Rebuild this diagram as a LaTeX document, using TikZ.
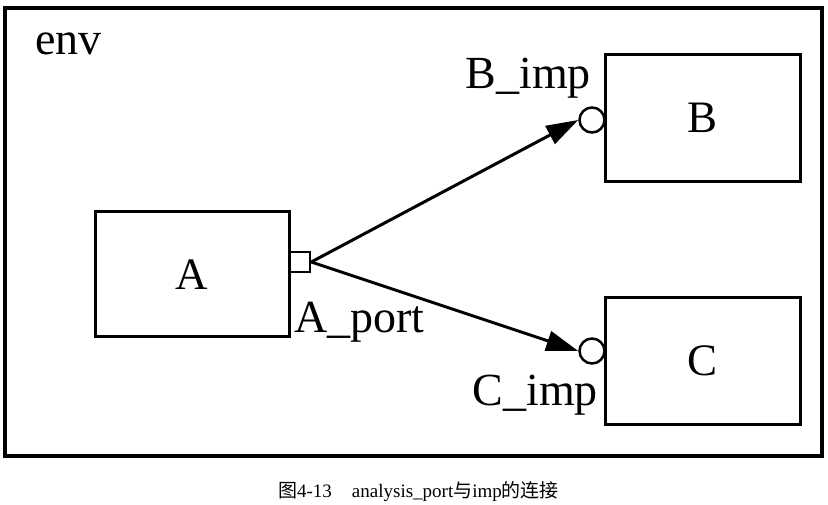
\documentclass[tikz,border=0pt]{standalone}
\usepackage{fontspec}
\setmainfont{Liberation Serif}
\newfontfamily\cjk{Noto Sans CJK SC}
\usetikzlibrary{arrows.meta}
\tikzset{
  box/.style={draw, line width=3pt, minimum width=195pt, minimum height=127pt, inner sep=0pt, font=\fontsize{45}{54}\selectfont},
  portsq/.style={draw, fill=white, line width=2.5pt, minimum size=20pt, inner sep=0pt},
  impc/.style={circle, draw, fill=white, line width=2.5pt, minimum size=25pt, inner sep=0pt},
  lbl/.style={inner sep=0pt, font=\fontsize{46}{55}\selectfont},
  conn/.style={line width=3pt, -{Triangle[length=32pt,width=20pt]}},
}
\begin{document}
\begin{tikzpicture}[x=1pt,y=-1pt]
\useasboundingbox (0,0) rectangle (828,505);
\node[draw, line width=3.5pt, minimum width=817pt, minimum height=448pt, inner sep=0pt] (env) at (413.5,232) {};
\node[lbl, anchor=base west] (envl) at (35,55) {env};
\node[box, minimum width=194pt, minimum height=125pt] (A) at (192,274.5) {A};
\node[box] (B) at (702.5,118) {B};
\node[box] (C) at (702.5,361) {C};
\node[portsq] (ap) at (300,262) {};
\node[impc] (bi) at (592,120) {};
\node[impc] (ci) at (592,351) {};
\node[lbl, anchor=base west] (apl) at (294,333) {A\_port};
\node[lbl, anchor=base east] (bil) at (591,89) {B\_imp};
\node[lbl, anchor=base east] (cil) at (598,405) {C\_imp};
\draw[conn] (ap.east) -- (bi.west);
\draw[conn] (ap.east) -- (ci.west);
\node[inner sep=0pt, font=\fontsize{19}{22}\selectfont] (cap) at (418.5,492) {{\cjk 图}4-13\hspace{20pt}analysis\_port{\cjk 与}imp{\cjk 的连接}};
\end{tikzpicture}
\end{document}
